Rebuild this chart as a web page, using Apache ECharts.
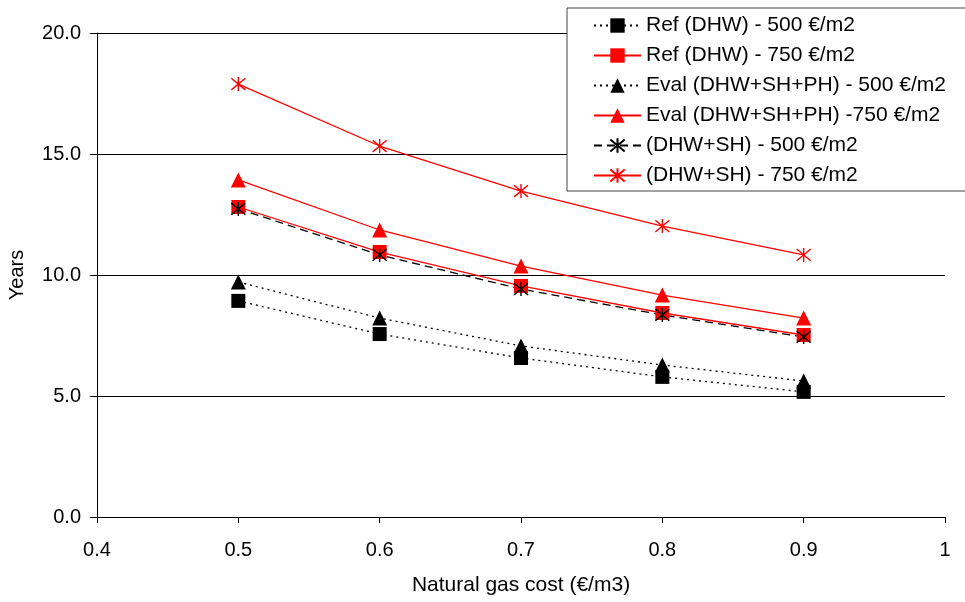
<!DOCTYPE html>
<html><head><meta charset="utf-8">
<script src="https://cdn.jsdelivr.net/npm/echarts@6/dist/echarts.min.js"></script>
<style>html,body{margin:0;padding:0;background:#fff}#c{width:965px;height:602px}</style>
</head><body><div id="c"></div>
<script>
const gasCost = [0.5, 0.6, 0.7, 0.8, 0.9];
const ref500 = [8.93, 7.56, 6.57, 5.79, 5.17];
const ref750 = [12.81, 10.95, 9.55, 8.43, 7.52];
const eval500 = [9.71, 8.22, 7.07, 6.28, 5.62];
const eval750 = [13.93, 11.86, 10.37, 9.17, 8.22];
const dhwsh500 = [12.73, 10.83, 9.42, 8.35, 7.44];
const dhwsh750 = [17.89, 15.33, 13.47, 12.02, 10.83];
const seriesNames = ['Ref (DHW) - 500 €/m2','Ref (DHW) - 750 €/m2','Eval (DHW+SH+PH) - 500 €/m2','Eval (DHW+SH+PH) -750 €/m2','(DHW+SH) - 500 €/m2','(DHW+SH) - 750 €/m2'];

const star = 'path://M0,0L10,10M10,0L0,10M5,-1L5,11';
function pairs(v){ return gasCost.map((x,i)=>[x,v[i]]); }
function mk(name, vals, color, ltype, symbol, size){
  const isStar = symbol === star;
  return {
    name, type:'line', data: pairs(vals), symbol, symbolSize: size,
    lineStyle:{color, width:1.3, type:ltype},
    itemStyle:{color: isStar ? 'rgba(0,0,0,0)' : color, borderColor: color, borderWidth: isStar?1.4:0},
    emphasis:{disabled:true}, animation:false, z:3
  };
}
const chart = echarts.init(document.getElementById('c'));
const font = 'Arial, "Liberation Sans", sans-serif';
chart.setOption({
  animation:false,
  grid:{left:97, right:20, top:33, bottom:85, outerBoundsMode:'none', containLabel:false},
  xAxis:{type:'value', min:0.4, max:1, interval:0.1,
    name:'Natural gas cost (€/m3)', nameLocation:'middle', nameGap:58,
    nameTextStyle:{fontFamily:font, fontSize:21, color:'#000'},
    axisLine:{lineStyle:{color:'#000', width:1}},
    axisTick:{show:true, length:6, lineStyle:{color:'#000'}},
    axisLabel:{fontFamily:font, fontSize:20, color:'#000', margin:23, formatter:v=>String(+v.toFixed(1))},
    splitLine:{show:false}},
  yAxis:{type:'value', min:0, max:20, interval:5,
    name:'Years', nameLocation:'middle', nameGap:70,
    nameTextStyle:{fontFamily:font, fontSize:20, color:'#000'},
    axisLine:{show:true, lineStyle:{color:'#000', width:1}},
    axisTick:{show:true, length:7, lineStyle:{color:'#000'}},
    axisLabel:{fontFamily:font, fontSize:20, color:'#000', margin:16, formatter:v=>v.toFixed(1)},
    splitLine:{show:true, lineStyle:{color:'#000', width:1}}},
  graphic:[{type:'rect', z:5, shape:{x:567, y:8, width:420, height:183}, style:{fill:'#fff', stroke:'#444', lineWidth:1}}],
  legend:{orient:'vertical', left:588, top:10, z:10, itemWidth:47, itemHeight:18, itemGap:9,
    textStyle:{fontFamily:font, fontSize:21, color:'#000'},
    data: seriesNames},
  series:[
    mk(seriesNames[0], ref500, '#000', [2,4], 'rect', 14),
    mk(seriesNames[1], ref750, '#ff0000', 'solid', 'rect', 14),
    mk(seriesNames[2], eval500, '#000', [2,4], 'triangle', 15),
    mk(seriesNames[3], eval750, '#ff0000', 'solid', 'triangle', 15),
    mk(seriesNames[4], dhwsh500, '#000', [8,5], star, 14),
    mk(seriesNames[5], dhwsh750, '#ff0000', 'solid', star, 14)
  ]
});
</script></body></html>
